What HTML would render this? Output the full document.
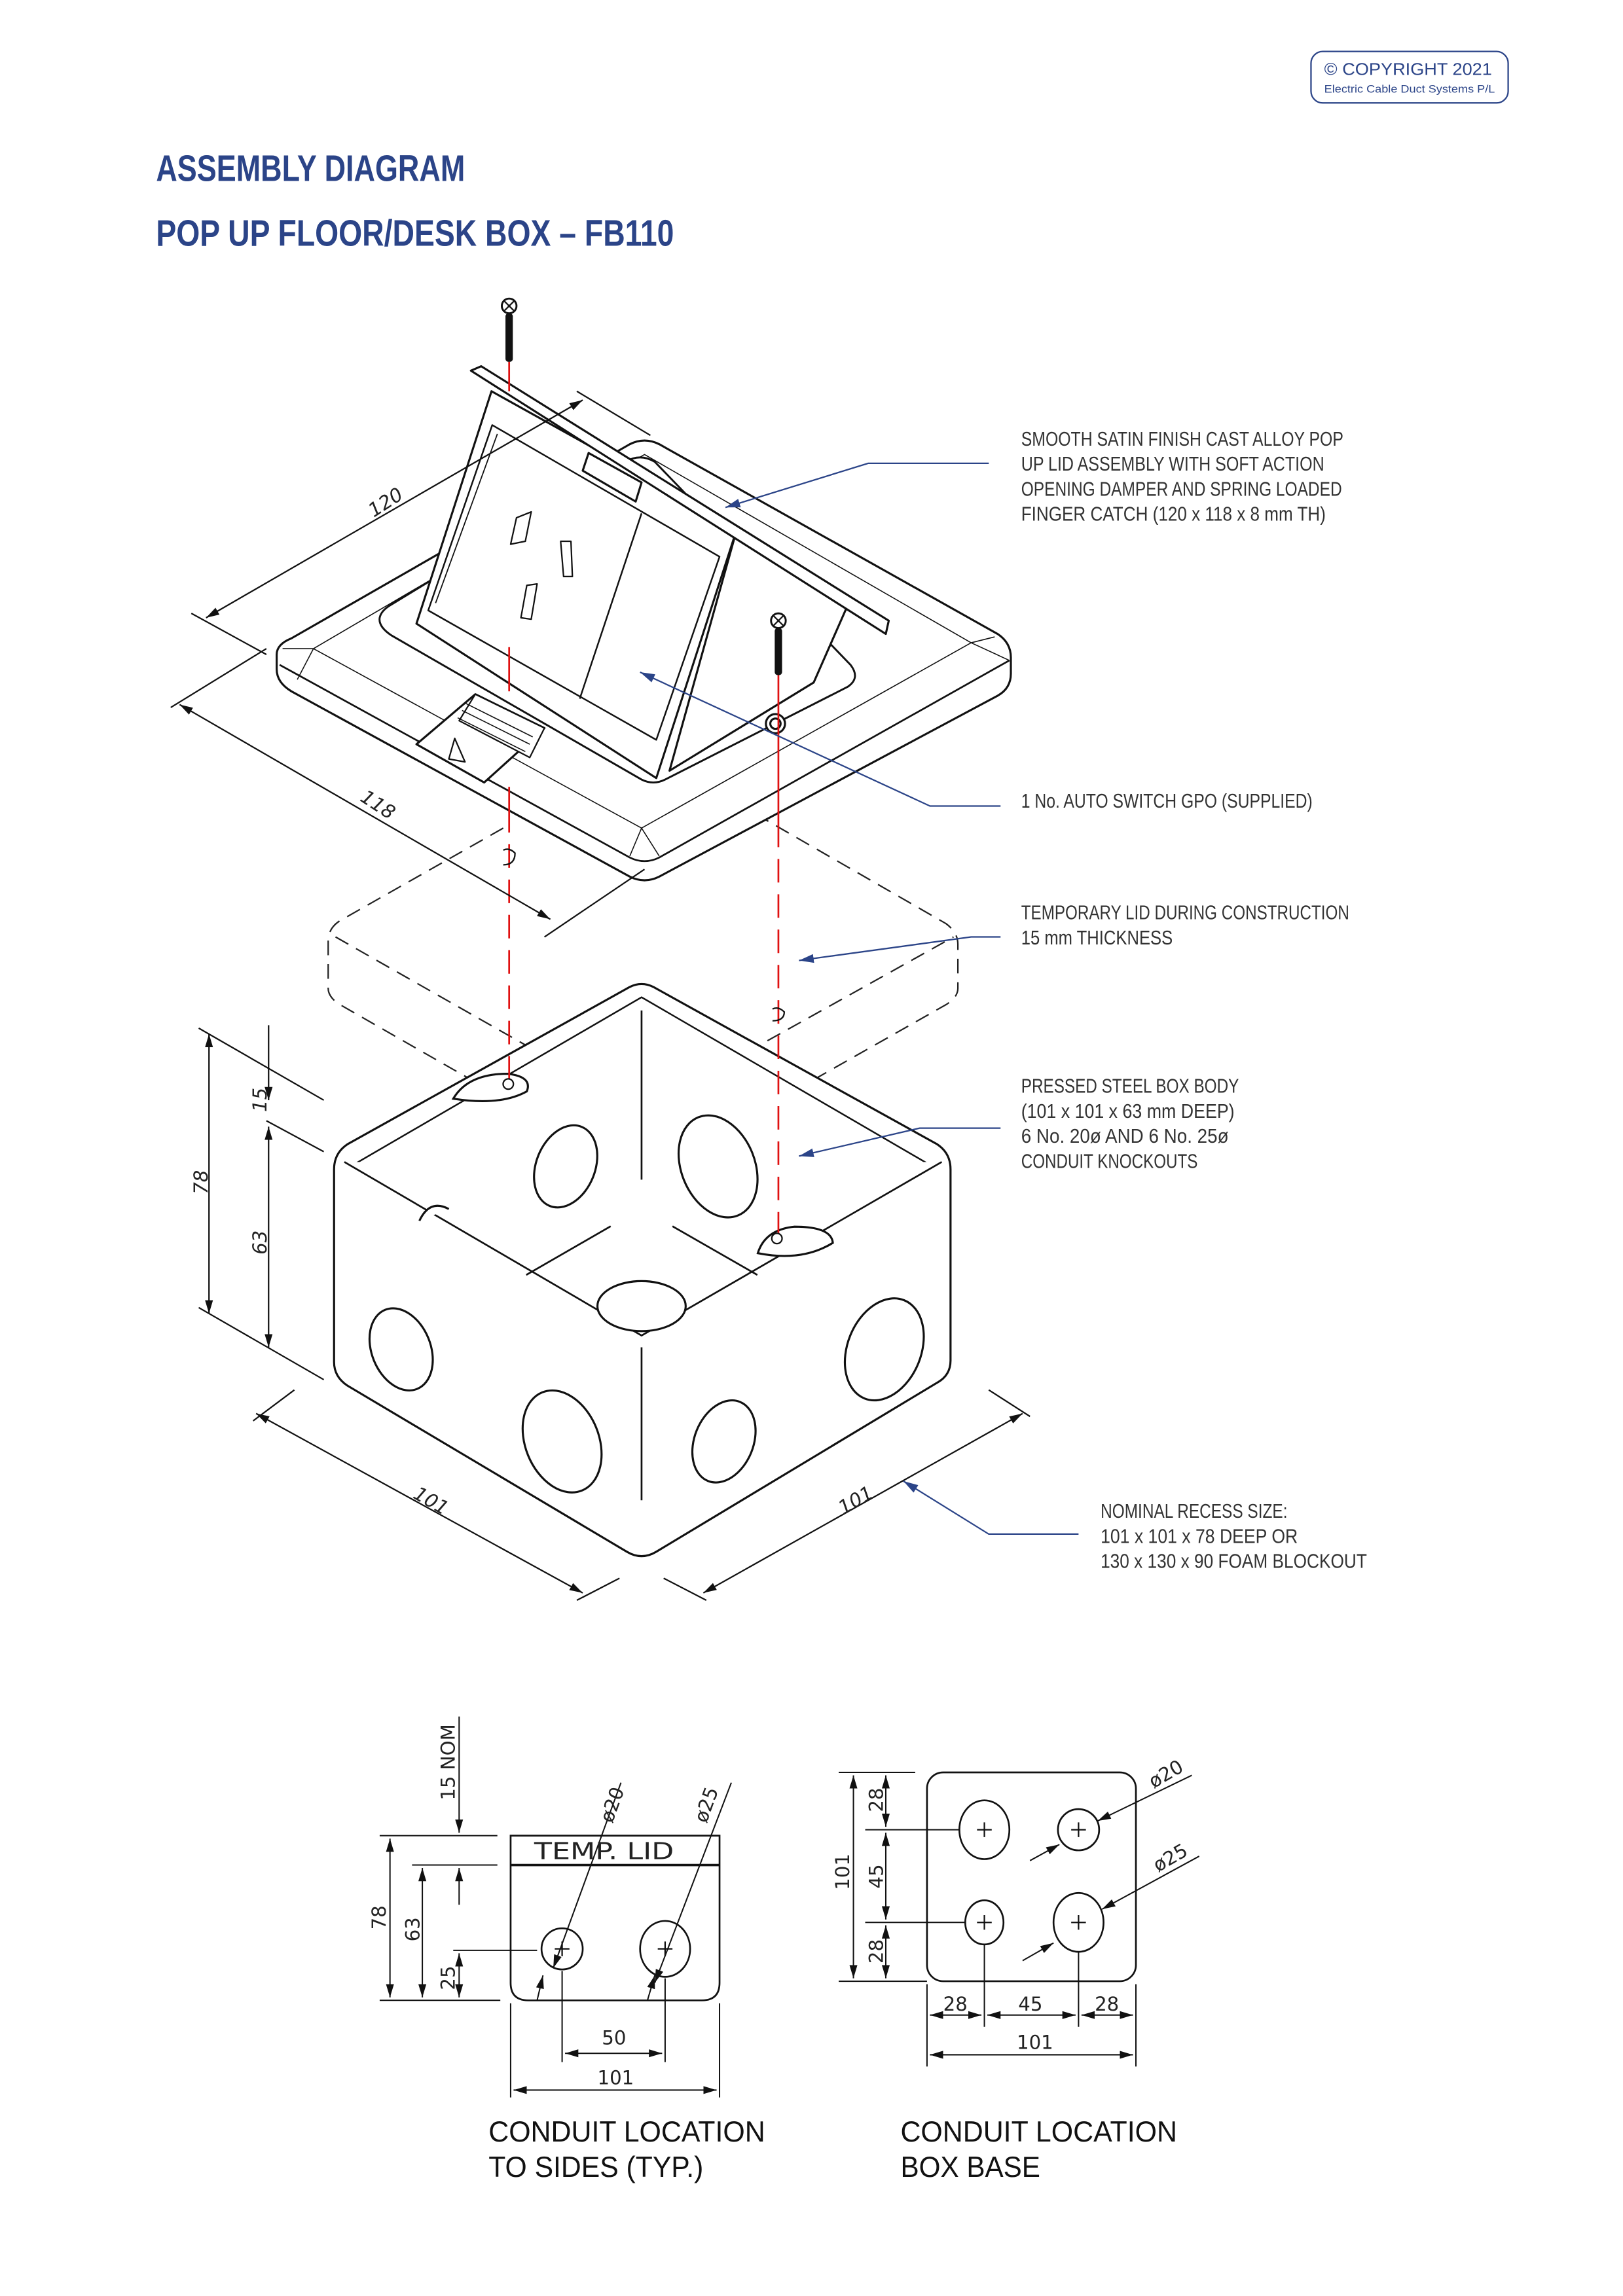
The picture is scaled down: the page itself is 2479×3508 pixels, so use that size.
<!DOCTYPE html>
<html><head><meta charset="utf-8"><style>
html,body{margin:0;padding:0;background:#fff}
svg{display:block}
.n{font-family:"Liberation Sans Narrow","Liberation Sans",sans-serif;fill:#333;font-size:13.5px}
.t{font-family:"Liberation Sans Narrow","Liberation Sans",sans-serif;fill:#2b4488;font-weight:bold}
.c{font-family:"DejaVu Sans","Liberation Sans",sans-serif;fill:#222;font-size:13px}
.cap{font-family:"Liberation Sans Narrow","Liberation Sans",sans-serif;fill:#111;font-size:20px}
</style></head><body>
<svg width="2479" height="3508" viewBox="0 0 1103 1561" xmlns="http://www.w3.org/2000/svg">
<defs>
<marker id="a" viewBox="0 0 10 10" refX="10" refY="5" markerWidth="9" markerHeight="9" orient="auto-start-reverse" markerUnits="userSpaceOnUse"><path d="M0,2 L10,5 L0,8 z" fill="#111"/></marker>
<marker id="b" viewBox="0 0 10 10" refX="10" refY="5" markerWidth="10" markerHeight="10" orient="auto" markerUnits="userSpaceOnUse"><path d="M0,2 L10,5 L0,8 z" fill="#2b4488"/></marker>
</defs>
<!-- copyright -->
<rect x="891" y="35" width="134" height="35" rx="8" fill="none" stroke="#2b4488" stroke-width="1"/>
<text x="900" y="51" font-family="Liberation Sans" font-size="11.5" fill="#2b4488" textLength="114" lengthAdjust="spacingAndGlyphs">© COPYRIGHT 2021</text>
<text x="900" y="63" font-family="Liberation Sans" font-size="7.5" fill="#2b4488" textLength="116" lengthAdjust="spacingAndGlyphs">Electric Cable Duct Systems P/L</text>
<!-- titles -->
<text class="t" x="106" y="123" font-size="25" textLength="210" lengthAdjust="spacingAndGlyphs">ASSEMBLY DIAGRAM</text>
<text class="t" x="106" y="167" font-size="25" textLength="352" lengthAdjust="spacingAndGlyphs">POP UP FLOOR/DESK BOX – FB110</text>

<!-- labels -->
<g class="n">
<text x="694" y="303" textLength="219" lengthAdjust="spacingAndGlyphs">SMOOTH SATIN FINISH CAST ALLOY POP</text>
<text x="694" y="320" textLength="206" lengthAdjust="spacingAndGlyphs">UP LID ASSEMBLY WITH SOFT ACTION</text>
<text x="694" y="337" textLength="218" lengthAdjust="spacingAndGlyphs">OPENING DAMPER AND SPRING LOADED</text>
<text x="694" y="354" textLength="207" lengthAdjust="spacingAndGlyphs">FINGER CATCH (120 x 118 x 8 mm TH)</text>
<text x="694" y="549" textLength="198" lengthAdjust="spacingAndGlyphs">1 No. AUTO SWITCH GPO (SUPPLIED)</text>
<text x="694" y="625" textLength="223" lengthAdjust="spacingAndGlyphs">TEMPORARY LID DURING CONSTRUCTION</text>
<text x="694" y="642" textLength="103" lengthAdjust="spacingAndGlyphs">15 mm THICKNESS</text>
<text x="694" y="743" textLength="148" lengthAdjust="spacingAndGlyphs">PRESSED STEEL BOX BODY</text>
<text x="694" y="760" textLength="145" lengthAdjust="spacingAndGlyphs">(101 x 101 x 63 mm DEEP)</text>
<text x="694" y="777" textLength="141" lengthAdjust="spacingAndGlyphs">6 No. 20ø AND 6 No. 25ø</text>
<text x="694" y="794" textLength="120" lengthAdjust="spacingAndGlyphs">CONDUIT KNOCKOUTS</text>
<text x="748" y="1032" textLength="127" lengthAdjust="spacingAndGlyphs">NOMINAL RECESS SIZE:</text>
<text x="748" y="1049" textLength="134" lengthAdjust="spacingAndGlyphs">101 x 101 x 78 DEEP OR</text>
<text x="748" y="1066" textLength="181" lengthAdjust="spacingAndGlyphs">130 x 130 x 90 FOAM BLOCKOUT</text>
</g>

<!-- temporary lid (dashed) -->
<g fill="none" stroke="#222" stroke-width="1" stroke-dasharray="10,6">
<path d="M342,563 L231,626 Q223,631 223,640 L223,672 Q223,678 231,683 L430,797 Q436,800 442,797 L643,683 Q651,678 651,672 L651,642 Q651,634 643,628 L518,556"/>
<path d="M228,637 L430,752 Q436,755 442,752 L648,637"/>
<path d="M430,753 L430,795 M442,753 L442,795"/>
</g>

<!-- box body -->
<g fill="#fff" stroke="#111" stroke-width="1.4" stroke-linejoin="round">
<path d="M236,778 L428,671 Q436,667 444,671 L637,778 Q646,784 646,795 L646,925 Q646,935 637,940 L446,1055 Q436,1061 426,1055 L236,942 Q227,936 227,926 L227,795 Q227,784 236,778 Z"/>
<path d="M240,792 L436,678 L632,792 L436,906 Z" stroke-width="1.1"/>
<path d="M234,790 L436,908 L640,790" stroke-width="1.2"/>
<path d="M436,687 L436,802 M357.6,866.8 L415,833.7 M457,833.7 L514.7,866.8" stroke-width="1.2"/>
<path d="M436,916 L436,1020" stroke-width="1.2"/>
</g>
<g fill="#fff" stroke="#111" stroke-width="1.4">
<ellipse cx="384.4" cy="793" rx="20" ry="29" transform="rotate(22 384.4 793)"/>
<ellipse cx="488" cy="793" rx="25" ry="36" transform="rotate(-22 488 793)"/>
<ellipse cx="436" cy="888" rx="30" ry="17"/>
<ellipse cx="272.6" cy="917.4" rx="20" ry="29" transform="rotate(-22 272.6 917.4)"/>
<ellipse cx="382" cy="980" rx="25" ry="36" transform="rotate(-22 382 980)"/>
<ellipse cx="492" cy="980" rx="20" ry="29" transform="rotate(22 492 980)"/>
<ellipse cx="601" cy="917.4" rx="25" ry="36" transform="rotate(22 601 917.4)"/>
<path d="M308,747 Q318,730 345,730 Q362,732 358,742 Q340,752 308,747 Z"/>
<path d="M515,852 Q520,836 540,834 Q565,834 566,845 Q545,858 515,852 Z"/>
<path d="M285,830 Q292,815 305,822" />
</g>

<!-- frame -->
<g fill="#fff" stroke="#111" stroke-width="1.4" stroke-linejoin="round">
<path d="M198,434 L428,302 Q438,297 448,302 L678,431 Q687,437 687,447 L687,458 Q687,468 678,473 L448,596 Q438,601 428,596 L198,470 Q188,464 188,455 L188,445 Q188,438 198,434 Z"/>
<path d="M190,452 L428,583 Q438,588 448,583 L686,449" stroke-width="1.2"/>
<path d="M213,441 L438,309 L660,437 L436,563 Z" stroke-width="0.7"/>
<path d="M192,441 L213,441 M202,462 L213,441 M428,582 L436,563 L448,582 M676,433 L660,437 M686,449 L660,437" stroke-width="0.7"/>
<path d="M266,411 L425,314 Q435,308 445,314 L578,452 Q585,461 576,467 L452,530 Q444,534 436,530 L266,432 Q257,426 258,420 Q259,415 266,411 Z" stroke-width="1.3"/>
<circle cx="527" cy="492" r="6.5"/>
<circle cx="527" cy="492" r="3.5"/>
</g>
<!-- lid -->
<g fill="#fff" stroke="#111" stroke-width="1.4" stroke-linejoin="round">
<path d="M501,359 L600,427 L575,414 L553,464 L455,524 Z"/>
<path d="M334,266 L501,359 L446,529 L283,424 Z"/>
<path d="M320,252 L327,249 L604,422 L602,431 Z"/>
<path d="M334.5,289 L489,378.5 L446,503 L291,415 Z" stroke-width="1.1"/>
<path d="M338,295 L296,410" stroke-width="0.8"/>
<path d="M436,349 L394,475" stroke-width="1.1"/>
<path d="M400,308 L436,328 L432,341 L396,320 Z"/>
<path d="M351,352 L361,348 L357,368 L347,370 Z M381,368 L388,368 L389,392 L383,392 Z M358,398 L365,397 L361,421 L354,420 Z" stroke-width="1"/>
<path d="M323,472 L370,495 L329,532 L283,506 Z"/>
<path d="M323,472 L370,495 L360,515 L312,490 Z" fill="#fff" stroke-width="1"/>
<path d="M316,478 L362,501 M314,483 L360,506 M311,488 L357,511" stroke-width="0.7"/>
<path d="M309,502 L316,518 L305,516 Z" stroke-width="1"/>
</g>

<!-- screws -->
<g>
<circle cx="346" cy="208" r="5" fill="#fff" stroke="#111" stroke-width="1.3"/>
<path d="M342,204 L350,212 M350,204 L342,212" stroke="#111" stroke-width="1"/>
<rect x="343.5" y="213" width="5" height="33" rx="2" fill="#111"/>
<circle cx="529" cy="422" r="5" fill="#fff" stroke="#111" stroke-width="1.3"/>
<path d="M525,418 L533,426 M533,418 L525,426" stroke="#111" stroke-width="1"/>
<rect x="526.5" y="427" width="5" height="32" rx="2" fill="#111"/>
</g>
<g stroke="#e01010" stroke-width="1.2" fill="none">
<path d="M346,246 L346,266 M346,440 L346,470 M346,535 L346,550"/>
<path d="M346,550 L346,737" stroke-dasharray="16,8"/>
<path d="M529,459 L529,560"/>
<path d="M529,560 L529,842" stroke-dasharray="16,8"/>
</g>
<path d="M342,578 Q346,576 350,580 Q350,588 342,588" fill="none" stroke="#111" stroke-width="1"/>
<path d="M525,686 Q529,684 533,688 Q533,694 525,694" fill="none" stroke="#111" stroke-width="1"/>
<circle cx="345.4" cy="737" r="3.5" fill="#fff" stroke="#111"/>
<circle cx="528" cy="842" r="3.5" fill="#fff" stroke="#111"/>

<!-- iso dimensions -->
<g fill="none" stroke="#111" stroke-width="1">
<path d="M130,417 L181,445"/>
<path d="M140,420 L396,272" marker-start="url(#a)" marker-end="url(#a)"/>
<path d="M392,266 L442,296"/>
<path d="M116,481 L181,441"/>
<path d="M122,479 L374,625" marker-start="url(#a)" marker-end="url(#a)"/>
<path d="M370,637 L438,591"/>
<path d="M135,699 L220,748 M181,762 L220,783 M135,889 L220,938"/>
<path d="M142,703 L142,893" marker-start="url(#a)" marker-end="url(#a)"/>
<path d="M182.5,697 L182.5,748" marker-end="url(#a)"/>
<path d="M182.5,766 L182.5,916" marker-start="url(#a)" marker-end="url(#a)"/>
<path d="M172,966 L200,945 M392,1088 L421,1073"/>
<path d="M174,961 L396,1083" marker-start="url(#a)" marker-end="url(#a)"/>
<path d="M451,1073 L480,1088 M672,945 L700,963"/>
<path d="M478,1083 L695,961" marker-start="url(#a)" marker-end="url(#a)"/>
</g>
<g class="c" font-size="17" font-family="DejaVu Sans" font-style="italic">
<text transform="translate(254,352) rotate(-33)">120</text>
<text transform="translate(244,544) rotate(33)">118</text>
<text transform="translate(141,812) rotate(-90)">78</text>
<text transform="translate(181,756) rotate(-90)">15</text>
<text transform="translate(181,853) rotate(-90)">63</text>
<text transform="translate(280,1018) rotate(30)">101</text>
<text transform="translate(573,1030) rotate(-30)">101</text>
</g>

<!-- navy leaders -->
<g fill="none" stroke="#2b4488" stroke-width="1">
<path d="M672,315 L590,315 L493,345" marker-end="url(#b)"/>
<path d="M680,548 L632,548 L435,457" marker-end="url(#b)"/>
<path d="M680,637 L660,637 L543,653" marker-end="url(#b)"/>
<path d="M680,767 L625,767 L543,786" marker-end="url(#b)"/>
<path d="M733,1043 L672,1043 L614,1007" marker-end="url(#b)"/>
</g>

<!-- left bottom drawing -->
<g fill="none" stroke="#111" stroke-width="1.2">
<path d="M347,1248 L489,1248 L489,1348 Q489,1360 477,1360 L359,1360 Q347,1360 347,1348 Z"/>
<path d="M347,1268 L489,1268" stroke-width="1.6"/>
<circle cx="382" cy="1325" r="14"/>
<ellipse cx="452" cy="1325" rx="17" ry="19"/>
<path d="M377,1325 L387,1325 M382,1320 L382,1330 M447,1325 L457,1325 M452,1320 L452,1330" stroke-width="1"/>
</g>
<g fill="none" stroke="#111" stroke-width="0.9">
<path d="M258,1248 L338,1248 M280,1268 L338,1268 M258,1360 L340,1360 M308,1326 L365,1326"/>
<path d="M265,1250 L265,1358" marker-start="url(#a)" marker-end="url(#a)"/>
<path d="M287,1270 L287,1358" marker-start="url(#a)" marker-end="url(#a)"/>
<path d="M312,1328 L312,1358" marker-start="url(#a)" marker-end="url(#a)"/>
<path d="M312,1167 L312,1246" marker-end="url(#a)"/>
<path d="M312,1295 L312,1270" marker-end="url(#a)"/>
<path d="M347,1362 L347,1426 M489,1362 L489,1426 M382,1340 L382,1402 M452,1345 L452,1402"/>
<path d="M384,1396 L450,1396" marker-start="url(#a)" marker-end="url(#a)"/>
<path d="M349,1421 L487,1421" marker-start="url(#a)" marker-end="url(#a)"/>
<path d="M422,1212 L376,1338" marker-end="url(#a)"/>
<path d="M365,1360 L369,1343" marker-end="url(#a)"/>
<path d="M497,1212 L445,1348" marker-end="url(#a)"/>
<path d="M440,1360 L445,1343" marker-end="url(#a)"/>
</g>
<g class="c" font-size="14">
<text x="363" y="1264" font-size="16" textLength="95" lengthAdjust="spacingAndGlyphs">TEMP.  LID</text>
<text transform="translate(262,1312) rotate(-90)">78</text>
<text transform="translate(285,1320) rotate(-90)">63</text>
<text transform="translate(309,1353) rotate(-90)">25</text>
<text transform="translate(309,1224) rotate(-90)">15 NOM</text>
<text x="409" y="1390">50</text>
<text x="406" y="1417">101</text>
<text transform="translate(416,1240) rotate(-70)">ø20</text>
<text transform="translate(480,1240) rotate(-70)">ø25</text>
</g>

<!-- right bottom drawing -->
<g fill="none" stroke="#111" stroke-width="1.2">
<rect x="630" y="1205" width="142" height="142" rx="11"/>
<ellipse cx="669" cy="1244" rx="17" ry="20"/>
<circle cx="733" cy="1244" r="14"/>
<ellipse cx="669" cy="1307" rx="13" ry="15"/>
<ellipse cx="733" cy="1307" rx="17" ry="20"/>
<path d="M664,1244 L674,1244 M669,1239 L669,1249 M728,1244 L738,1244 M733,1239 L733,1249 M664,1307 L674,1307 M669,1302 L669,1312 M728,1307 L738,1307 M733,1302 L733,1312" stroke-width="1"/>
</g>
<g fill="none" stroke="#111" stroke-width="0.9">
<path d="M570,1205 L622,1205 M570,1347 L630,1347 M588,1244 L652,1244 M588,1307 L656,1307"/>
<path d="M580,1207 L580,1345" marker-start="url(#a)" marker-end="url(#a)"/>
<path d="M602,1207 L602,1242" marker-start="url(#a)" marker-end="url(#a)"/>
<path d="M602,1246 L602,1305" marker-start="url(#a)" marker-end="url(#a)"/>
<path d="M602,1309 L602,1345" marker-start="url(#a)" marker-end="url(#a)"/>
<path d="M630,1349 L630,1405 M772,1349 L772,1405 M669,1322 L669,1378 M733,1327 L733,1378"/>
<path d="M632,1370 L667,1370" marker-start="url(#a)" marker-end="url(#a)"/>
<path d="M671,1370 L731,1370" marker-start="url(#a)" marker-end="url(#a)"/>
<path d="M735,1370 L770,1370" marker-start="url(#a)" marker-end="url(#a)"/>
<path d="M632,1397 L770,1397" marker-start="url(#a)" marker-end="url(#a)"/>
<path d="M810,1207 L746,1238" marker-end="url(#a)"/>
<path d="M700,1265 L720,1254" marker-end="url(#a)"/>
<path d="M815,1262 L749,1298" marker-end="url(#a)"/>
<path d="M695,1333 L716,1321" marker-end="url(#a)"/>
</g>
<g class="c" font-size="14">
<text transform="translate(577,1285) rotate(-90)">101</text>
<text transform="translate(600,1232) rotate(-90)">28</text>
<text transform="translate(600,1284) rotate(-90)">45</text>
<text transform="translate(600,1335) rotate(-90)">28</text>
<text x="641" y="1367">28</text>
<text x="692" y="1367">45</text>
<text x="744" y="1367">28</text>
<text x="691" y="1393">101</text>
<text transform="translate(784,1216) rotate(-30)">ø20</text>
<text transform="translate(787,1273) rotate(-30)">ø25</text>
</g>

<!-- captions -->
<text class="cap" x="332" y="1456" textLength="188" lengthAdjust="spacingAndGlyphs">CONDUIT LOCATION</text>
<text class="cap" x="332" y="1480" textLength="146" lengthAdjust="spacingAndGlyphs">TO SIDES (TYP.)</text>
<text class="cap" x="612" y="1456" textLength="188" lengthAdjust="spacingAndGlyphs">CONDUIT LOCATION</text>
<text class="cap" x="612" y="1480" textLength="95" lengthAdjust="spacingAndGlyphs">BOX BASE</text>
</svg>
</body></html>
